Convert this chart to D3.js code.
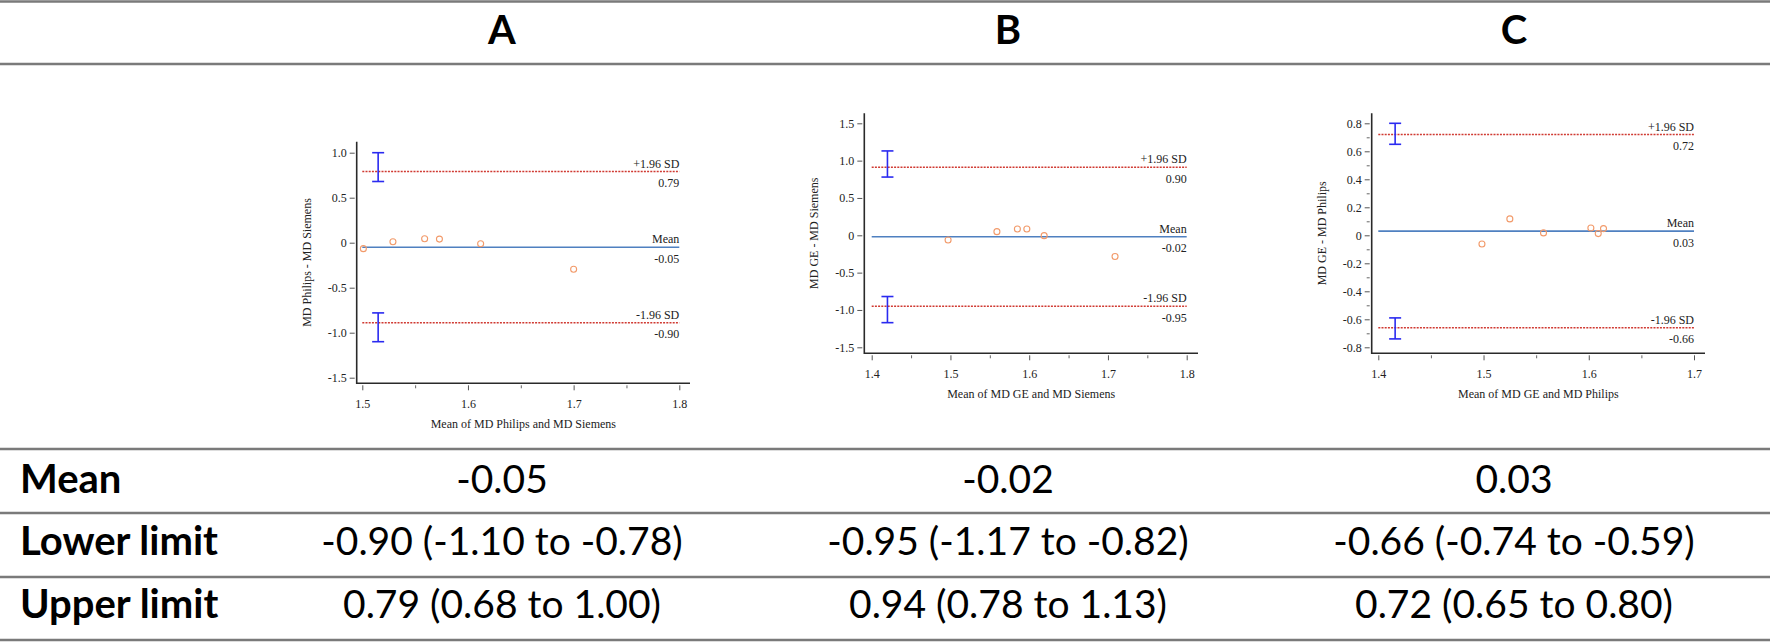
<!DOCTYPE html>
<html>
<head>
<meta charset="utf-8">
<script src="https://cdn.jsdelivr.net/npm/d3@7"></script>
<style>
  html, body { margin: 0; padding: 0; background: #fff; }
  svg { display: block; }
</style>
</head>
<body>
<svg id="chart" width="1770" height="642"></svg>
<script>
// ---------------- DATA ----------------
const panelNames = ["A", "B", "C"];
const xTitles = ["Mean of MD Philips and MD Siemens", "Mean of MD GE and MD Siemens", "Mean of MD GE and MD Philips"];
const yTitles = ["MD Philips - MD Siemens", "MD GE - MD Siemens", "MD GE - MD Philips"];

const avgA  = [1.501, 1.529, 1.559, 1.573, 1.612, 1.700];
const diffA = [-0.066, 0.011, 0.044, 0.040, -0.011, -0.295];
const avgB  = [1.497, 1.559, 1.585, 1.597, 1.619, 1.709];
const diffB = [-0.063, 0.049, 0.085, 0.085, -0.005, -0.283];
const avgC  = [1.4985, 1.525, 1.557, 1.602, 1.609, 1.614];
const diffC = [-0.062, 0.117, 0.017, 0.052, 0.012, 0.048];

const meanDiff = [-0.05, -0.02, 0.03];
const lowerLoA = [-0.89, -0.95, -0.66];
const upperLoA = [0.79, 0.91, 0.72];
const meanLabels  = ["-0.05", "-0.02", "0.03"];
const lowerLabels = ["-0.90", "-0.95", "-0.66"];
const upperLabels = ["0.79", "0.90", "0.72"];
const lowerCI = [[-1.10, -0.78], [-1.17, -0.82], [-0.74, -0.59]];
const upperCI = [[0.68, 1.00], [0.78, 1.13], [0.65, 0.80]];
const ciX = [1.515, 1.42, 1.416];

const xTicks = [[1.5, 1.6, 1.7, 1.8], [1.4, 1.5, 1.6, 1.7, 1.8], [1.4, 1.5, 1.6, 1.7]];
const xMinor = [[1.55, 1.65, 1.75], [1.45, 1.55, 1.65, 1.75], [1.45, 1.55, 1.65]];
const yTicks = [[1.0, 0.5, 0, -0.5, -1.0, -1.5], [1.5, 1.0, 0.5, 0, -0.5, -1.0, -1.5], [0.8, 0.6, 0.4, 0.2, 0, -0.2, -0.4, -0.6, -0.8]];
const yMinor = [[], [], [0.7, 0.5, 0.3, 0.1, -0.1, -0.3, -0.5, -0.7]];

const rowLabels = ["Mean", "Lower limit", "Upper limit"];
const meanCells  = ["-0.05", "-0.02", "0.03"];
const lowerCells = ["-0.90 (-1.10 to -0.78)", "-0.95 (-1.17 to -0.82)", "-0.66 (-0.74 to -0.59)"];
const upperCells = ["0.79 (0.68 to 1.00)", "0.94 (0.78 to 1.13)", "0.72 (0.65 to 0.80)"];

// ---------------- LAYOUT ----------------
const points = [[avgA, diffA], [avgB, diffB], [avgC, diffC]];
const layout = [
  { xr: [362.3, 679.3], yr: [377.7, 152.7], box: { l: 356.7, t: 141.7, r: 690, b: 383.3 } },
  { xr: [871.7, 1186.7], yr: [347.3, 123.3], box: { l: 864.3, t: 113.3, r: 1198, b: 353.3 } },
  { xr: [1378.3, 1694], yr: [347.3, 123.3], box: { l: 1371.7, t: 113.3, r: 1705, b: 353.3 } }
];

const svg = d3.select("#chart");
const serif = "'Liberation Serif', 'Times New Roman', serif";
const sans = "Lato, 'Open Sans', sans-serif";
const fmt = d => d === 0 ? "0" : (d < 0 ? "-" : "") + Math.abs(d).toFixed(1);

panelNames.forEach((name, i) => {
  const L = layout[i];
  const xt = xTicks[i], yt = yTicks[i];
  const x = d3.scaleLinear().domain([xt[0], xt[xt.length - 1]]).range(L.xr);
  const y = d3.scaleLinear().domain([yt[yt.length - 1], yt[0]]).range(L.yr);
  const g = svg.append("g");
  const B = L.box;

  // axes (library axes, domain hidden, offset from frame)
  const yAx = g.append("g").attr("transform", `translate(${B.l - 2},0)`)
    .call(d3.axisLeft(y).tickValues(yt).tickFormat(fmt).tickSize(5).tickPadding(3));
  yAx.select(".domain").remove();
  yAx.selectAll("line").attr("stroke", "#555");
  yAx.selectAll("text").attr("font-family", serif).attr("font-size", 12).attr("fill", "#222");
  if (yMinor[i].length) {
    const yAm = g.append("g").attr("transform", `translate(${B.l - 2},0)`)
      .call(d3.axisLeft(y).tickValues(yMinor[i]).tickFormat("").tickSize(3));
    yAm.select(".domain").remove();
    yAm.selectAll("line").attr("stroke", "#666");
  }
  const xAx = g.append("g").attr("transform", `translate(0,${B.b + 2})`)
    .call(d3.axisBottom(x).tickValues(xt).tickFormat(d => d.toFixed(1)).tickSize(5).tickPadding(9));
  xAx.select(".domain").remove();
  xAx.selectAll("line").attr("stroke", "#555");
  xAx.selectAll("text").attr("font-family", serif).attr("font-size", 12).attr("fill", "#222");
  const xAm = g.append("g").attr("transform", `translate(0,${B.b + 2})`)
    .call(d3.axisBottom(x).tickValues(xMinor[i]).tickFormat("").tickSize(3));
  xAm.select(".domain").remove();
  xAm.selectAll("line").attr("stroke", "#666");

  // frame (left + bottom)
  g.append("path")
    .attr("d", `M${B.l},${B.t}V${B.b}H${B.r}`)
    .attr("fill", "none").attr("stroke", "#2a2a2a").attr("stroke-width", 1.6);

  const x0 = x(xt[0]), x1 = x(xt[xt.length - 1]);

  // limits of agreement
  [upperLoA[i], lowerLoA[i]].forEach(v => {
    g.append("line").attr("x1", x0).attr("x2", x1).attr("y1", y(v)).attr("y2", y(v))
      .attr("stroke", "#d03a32").attr("stroke-width", 1.5).attr("stroke-dasharray", "2,1.2");
  });
  // mean line
  g.append("line").attr("x1", x0).attr("x2", x1).attr("y1", y(meanDiff[i])).attr("y2", y(meanDiff[i]))
    .attr("stroke", "#4f80c0").attr("stroke-width", 1.6);

  // labels on lines
  const lab = (txt, yy) => g.append("text").attr("x", x1).attr("y", yy).attr("text-anchor", "end")
    .attr("font-family", serif).attr("font-size", 12).attr("fill", "#222").text(txt);
  lab("+1.96 SD", y(upperLoA[i]) - 4); lab(upperLabels[i], y(upperLoA[i]) + 15.5);
  lab("Mean", y(meanDiff[i]) - 4); lab(meanLabels[i], y(meanDiff[i]) + 15.5);
  lab("-1.96 SD", y(lowerLoA[i]) - 4); lab(lowerLabels[i], y(lowerLoA[i]) + 15.5);

  // CI error bars
  [upperCI[i], lowerCI[i]].forEach(ci => {
    const cx = x(ciX[i]);
    const eb = g.append("g").attr("stroke", "#2a2af0").attr("stroke-width", 1.6).attr("fill", "none");
    eb.append("line").attr("x1", cx).attr("x2", cx).attr("y1", y(ci[0])).attr("y2", y(ci[1]));
    eb.append("line").attr("x1", cx - 6).attr("x2", cx + 6).attr("y1", y(ci[0])).attr("y2", y(ci[0]));
    eb.append("line").attr("x1", cx - 6).attr("x2", cx + 6).attr("y1", y(ci[1])).attr("y2", y(ci[1]));
  });

  // points
  const [px, py] = points[i];
  g.selectAll("circle.pt").data(px.map((v, k) => [v, py[k]])).join("circle")
    .attr("class", "pt").attr("cx", d => x(d[0])).attr("cy", d => y(d[1])).attr("r", 3)
    .attr("fill", "none").attr("stroke", "#f29a6a").attr("stroke-width", 1.1);

  // axis titles
  g.append("text").attr("x", (B.l + B.r) / 2).attr("y", B.b + 45).attr("text-anchor", "middle")
    .attr("font-family", serif).attr("font-size", 12).attr("fill", "#222").text(xTitles[i]);
  g.append("text").attr("transform", `translate(${B.l - 46},${(B.t + B.b) / 2}) rotate(-90)`)
    .attr("text-anchor", "middle").attr("font-family", serif).attr("font-size", 12).attr("fill", "#222")
    .text(yTitles[i]);
});

// ---------------- TABLE ----------------
const colX = [502, 1008, 1514];
const ruleY = [1.5, 64, 449, 513, 577, 640];
ruleY.forEach(yy => {
  svg.append("line").attr("x1", 0).attr("x2", 1770).attr("y1", yy).attr("y2", yy)
    .attr("stroke", "#7a7a7a").attr("stroke-width", 2.6);
});
panelNames.forEach((n, i) => {
  svg.append("text").attr("x", colX[i]).attr("y", 44).attr("text-anchor", "middle")
    .attr("font-family", sans).attr("font-weight", 700).attr("font-size", 40).attr("fill", "#000").text(n);
});
const rowBase = [493, 555, 618];
const cells = [meanCells, lowerCells, upperCells];
rowLabels.forEach((r, k) => {
  svg.append("text").attr("x", 20).attr("y", rowBase[k])
    .attr("font-family", sans).attr("font-weight", 700).attr("font-size", 40).attr("fill", "#000").text(r);
  cells[k].forEach((c, i) => {
    svg.append("text").attr("x", colX[i]).attr("y", rowBase[k]).attr("text-anchor", "middle")
      .attr("font-family", sans).attr("font-size", 39).attr("fill", "#000").text(c);
  });
});
</script>
</body>
</html>
